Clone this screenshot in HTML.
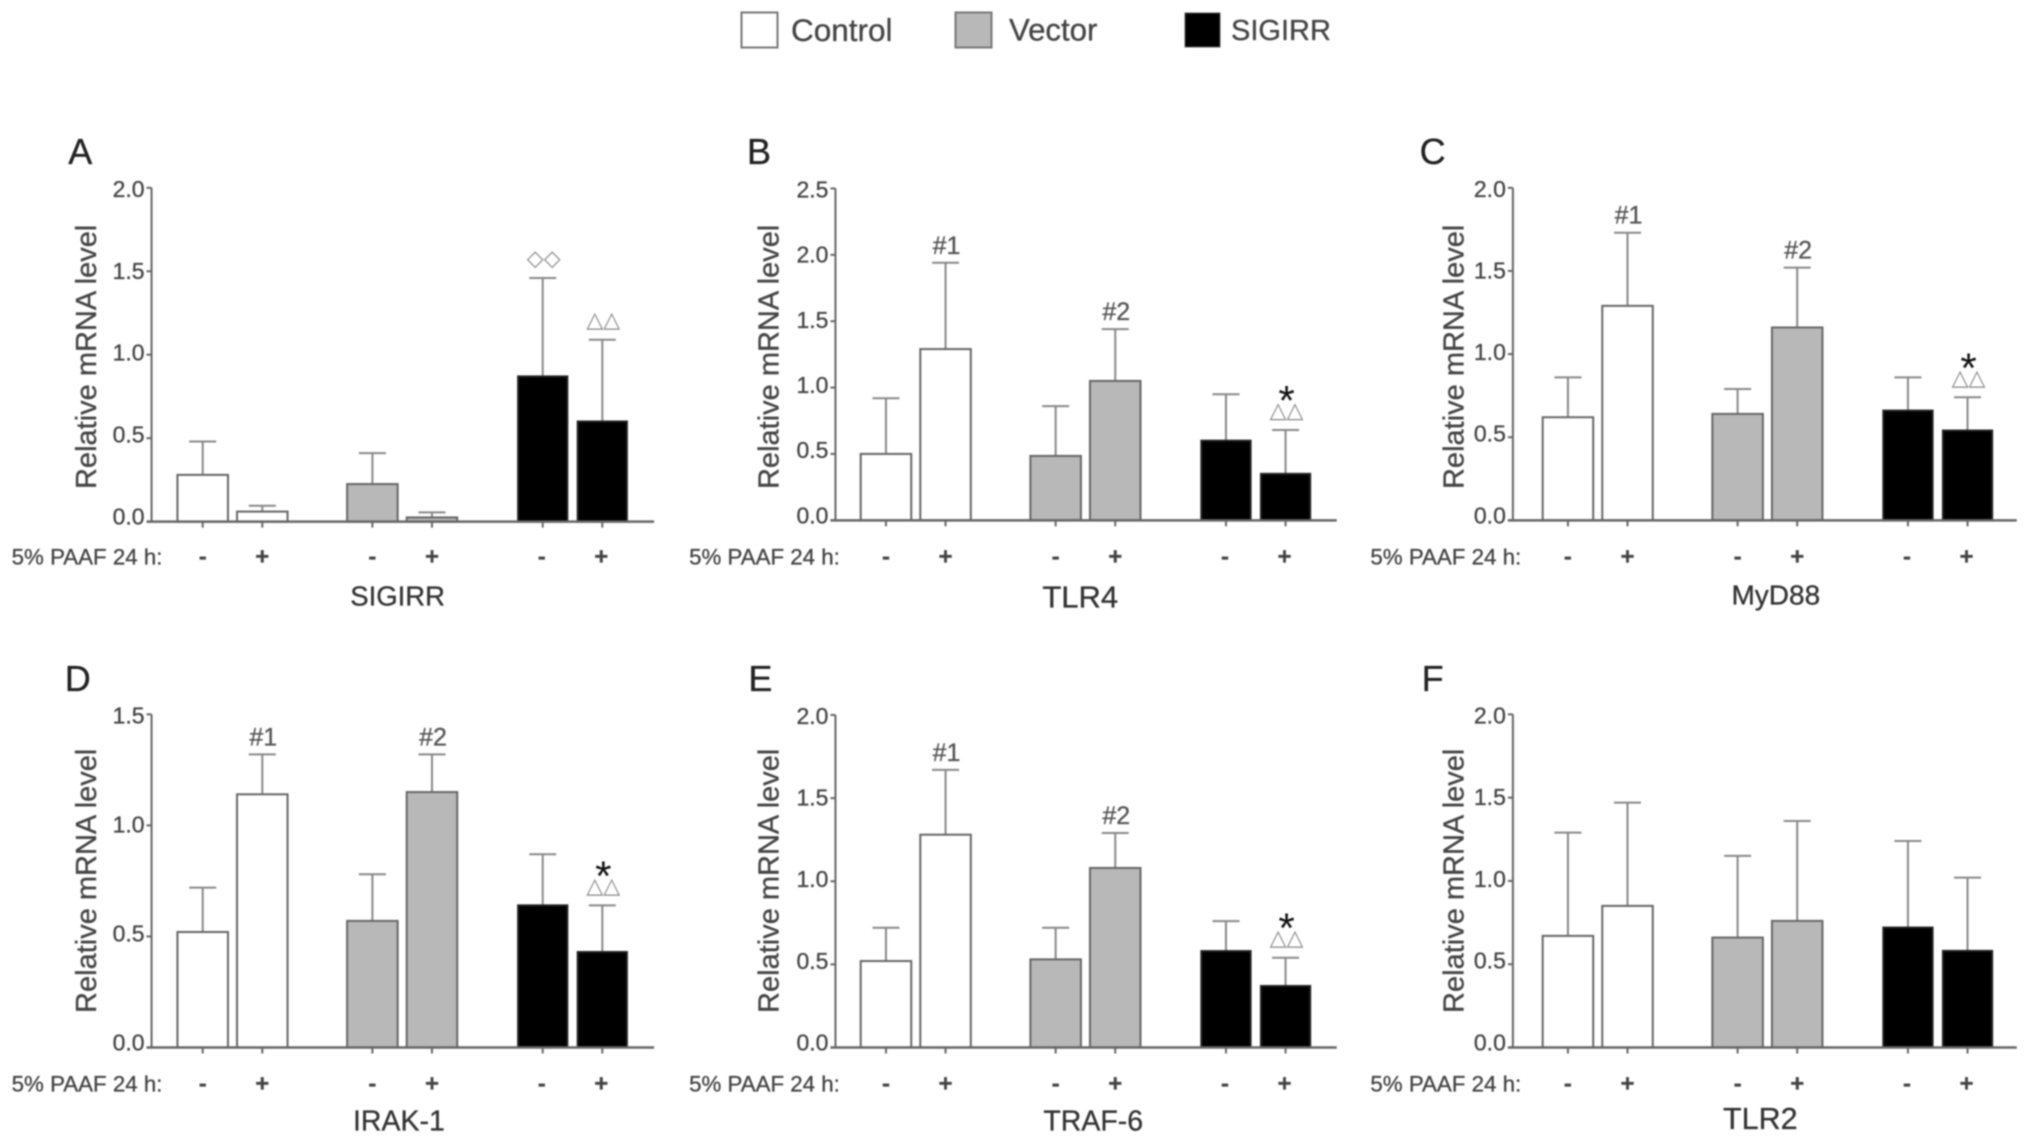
<!DOCTYPE html>
<html lang="en">
<head>
<meta charset="utf-8">
<title>Relative mRNA levels</title>
<style>
html,body{margin:0;padding:0;background:#fff;width:2031px;height:1144px;overflow:hidden}
#chart{display:block;filter:blur(0.8px)}
text{font-family:"Liberation Sans",sans-serif;fill:#444;stroke:#444;stroke-width:0.3px}
</style>
</head>
<body>
<svg id="chart" xmlns="http://www.w3.org/2000/svg" width="2031" height="1144" viewBox="0 0 2031 1144">
  <g>
    <rect x="741.500" y="12.500" width="36" height="35" fill="#fff" stroke="#777" stroke-width="2"/>
    <text x="791" y="30" font-size="31.500" dominant-baseline="central">Control</text>
    <rect x="955.500" y="12.500" width="36" height="35" fill="#b8b8b8" stroke="#777" stroke-width="2"/>
    <text x="1009" y="30" font-size="31.200" dominant-baseline="central">Vector</text>
    <rect x="1185" y="13" width="35" height="34" fill="#000" stroke="#555" stroke-width="1"/>
    <text x="1231" y="31" font-size="29" dominant-baseline="central">SIGIRR</text>
  </g>
</svg>
<script>
// Values: bar means and the top of each error bar.
const treatments = ["-", "+", "-", "+", "-", "+"];
const yTickLabels20 = ["0.0", "0.5", "1.0", "1.5", "2.0"];
const yTickLabels25 = ["0.0", "0.5", "1.0", "1.5", "2.0", "2.5"];
const yTickLabels15 = ["0.0", "0.5", "1.0", "1.5"];

const sigirrMeans = [0.28, 0.06, 0.225, 0.025, 0.87, 0.60];
const sigirrErrorTops = [0.48, 0.095, 0.41, 0.055, 1.46, 1.09];
const sigirrMarks = ["", "", "", "", "diamonds", "triangles"];

const tlr4Means = [0.50, 1.29, 0.485, 1.05, 0.60, 0.35];
const tlr4ErrorTops = [0.92, 1.94, 0.86, 1.44, 0.95, 0.68];
const tlr4Marks = ["", "#1", "", "#2", "", "star"];

const myd88Means = [0.62, 1.29, 0.64, 1.16, 0.66, 0.54];
const myd88ErrorTops = [0.86, 1.73, 0.79, 1.52, 0.86, 0.74];
const myd88Marks = ["", "#1", "", "#2", "", "star"];

const irak1Means = [0.52, 1.14, 0.57, 1.15, 0.64, 0.43];
const irak1ErrorTops = [0.72, 1.32, 0.78, 1.32, 0.87, 0.64];
const irak1Marks = ["", "#1", "", "#2", "", "star"];

const traf6Means = [0.52, 1.28, 0.53, 1.08, 0.58, 0.37];
const traf6ErrorTops = [0.72, 1.67, 0.72, 1.29, 0.76, 0.54];
const traf6Marks = ["", "#1", "", "#2", "", "star"];

const tlr2Means = [0.67, 0.85, 0.66, 0.76, 0.72, 0.58];
const tlr2ErrorTops = [1.29, 1.47, 1.15, 1.36, 1.24, 1.02];
const tlr2Marks = ["", "", "", "", "", ""];

const NS = "http://www.w3.org/2000/svg";
const svg = document.getElementById("chart");
const S = 2031 / 1568;
const barFills = ["#fff", "#fff", "#b8b8b8", "#b8b8b8", "#000", "#000"];
const barEdges = [[137,176],[183,222],[268,307],[314,353],[400,438],[446,484]];
const signOffsets = [0, 0, 0, 0, -1, -1];

const panels = [
  {key:"sigirr", letter:"A", lx:62, ly:117, title:"SIGIRR", tx:307, ty:460, tsize:27.5, axisX:117, right:505, base:402.7, top:145, max:2, ticks:yTickLabels20, means:sigirrMeans, errs:sigirrErrorTops, marks:sigirrMarks, dx:0, signY:430, rowX:9, yTitleX:67, yTitleY:275.5},
  {key:"tlr4", letter:"B", lx:586, ly:117, title:"TLR4", tx:834, ty:461, tsize:31, axisX:645, right:1032, base:401.7, top:145.5, max:2.5, ticks:yTickLabels25, means:tlr4Means, errs:tlr4ErrorTops, marks:tlr4Marks, dx:527.5, signY:430, rowX:532, yTitleX:594, yTitleY:275.5},
  {key:"myd88", letter:"C", lx:1106, ly:117, title:"MyD88", tx:1371, ty:459.5, tsize:28, axisX:1168, right:1557, base:401.7, top:145, max:2, ticks:yTickLabels20, means:myd88Means, errs:myd88ErrorTops, marks:myd88Marks, dx:1054, signY:430, rowX:1058, yTitleX:1123, yTitleY:275.5},
  {key:"irak1", letter:"D", lx:60, ly:524, title:"IRAK-1", tx:308, ty:866, tsize:28.5, axisX:117, right:505, base:808.7, top:551.5, max:1.5, ticks:yTickLabels15, means:irak1Means, errs:irak1ErrorTops, marks:irak1Marks, dx:0, signY:837, rowX:9, yTitleX:67, yTitleY:680},
  {key:"traf6", letter:"E", lx:587, ly:524, title:"TRAF-6", tx:844, ty:866, tsize:28.5, axisX:645, right:1032, base:808.7, top:552, max:2, ticks:yTickLabels20, means:traf6Means, errs:traf6ErrorTops, marks:traf6Marks, dx:527.5, signY:837, rowX:532, yTitleX:594, yTitleY:680},
  {key:"tlr2", letter:"F", lx:1106, ly:524, title:"TLR2", tx:1359, ty:864, tsize:30.5, axisX:1168, right:1557, base:808.7, top:551.5, max:2, ticks:yTickLabels20, means:tlr2Means, errs:tlr2ErrorTops, marks:tlr2Marks, dx:1054, signY:837, rowX:1058, yTitleX:1123, yTitleY:680}
];

function make(tag, parent, props, content) {
  const el = document.createElementNS(NS, tag);
  for (const k in props) el.setAttribute(k, props[k]);
  if (content !== undefined) el.textContent = content;
  parent.appendChild(el);
  return el;
}

panels.forEach(function (p) {
  const g = make("g", svg, {});
  
  

  const yBase = p.base * S, yTop = p.top * S, axisX = p.axisX * S;
  const yScale = function (v) { return yBase - (v / p.max) * (yBase - yTop); };
  const xLeft = function (i) { return (barEdges[i][0] + p.dx) * S; };
  const xRight = function (i) { return (barEdges[i][1] + p.dx) * S; };
  const xMid = function (i) { return (xLeft(i) + xRight(i)) / 2; };

  const letter = make("text", g, {x: p.lx * S, y: p.ly * S, "font-size": 36, "text-anchor": "middle", "dominant-baseline": "central", style: "fill:#222;stroke:#222"}, p.letter);
  
  

  const yTitle = make("text", g, {x: 0, y: 0, "font-size": 29, "text-anchor": "middle", "dominant-baseline": "central", transform: "translate(" + (p.yTitleX * S) + "," + (p.yTitleY * S) + ") rotate(-90)"}, "Relative mRNA level");
  
  

  p.ticks.forEach(function (label) {
    const v = parseFloat(label);
    const y = yScale(v);
    const tick = make("line", g, {x1: axisX - 5, x2: axisX, y1: y, y2: y, stroke: "#666", "stroke-width": 2});
    
    
    const labelShift = -5 + 6 * (v / p.max);
    const txt = make("text", g, {x: axisX - 7, y: y + labelShift, "font-size": 23, "text-anchor": "end", "dominant-baseline": "central"}, label);
    
    
  });

  p.means.forEach(function (mean, i) {
    const cx = xMid(i);
    const yErr = yScale(p.errs[i]);
    const stem = make("line", g, {x1: cx, x2: cx, y1: yErr, y2: yScale(mean), stroke: "#888", "stroke-width": 2});
    
    
    const cap = make("line", g, {x1: cx - 13.5, x2: cx + 13.5, y1: yErr, y2: yErr, stroke: "#888", "stroke-width": 2});
    
    

    const bar = make("rect", g, {x: xLeft(i), y: yScale(mean), width: xRight(i) - xLeft(i), height: yBase - yScale(mean), fill: barFills[i], stroke: i >= 4 ? "#222" : "#666", "stroke-width": 2});
    
    

    const xt = make("line", g, {x1: cx, x2: cx, y1: yBase, y2: yBase + 6, stroke: "#666", "stroke-width": 2});
    
    

    const sign = make("text", g, {x: cx + signOffsets[i], y: p.signY * S, "font-size": 24, "font-weight": "bold", "text-anchor": "middle", "dominant-baseline": "central"}, treatments[i]);
    
    

    const mark = p.marks[i];
    if (mark.charAt(0) === "#") {
      const t = make("text", g, {x: cx + 1, y: yErr - 17, "font-size": 25, "text-anchor": "middle", "dominant-baseline": "central", style: "fill:#555;stroke:#555"}, mark);
      
      
    } else if (mark === "diamonds" || mark === "triangles" || mark === "star") {
      const glyphs = mark === "diamonds" ? "\u25C7\u25C7" : "\u25B3\u25B3";
      const t = make("text", g, {x: cx + 1, y: yErr - 19, "font-size": 22, "text-anchor": "middle", "dominant-baseline": "central", style: "font-family:'DejaVu Sans',sans-serif;fill:#888;stroke:none"}, glyphs);
      
      
      if (mark === "star") {
        const s = make("text", g, {x: cx + 1, y: yErr - 15, "font-size": 42, "text-anchor": "middle", style: "fill:#111;stroke:none"}, "*");
        
        
      }
    }
  });

  const yAxis = make("line", g, {x1: axisX, x2: axisX, y1: yTop, y2: yBase, stroke: "#666", "stroke-width": 2});
  
  
  const xAxis = make("line", g, {x1: axisX - 5, x2: p.right * S, y1: yBase, y2: yBase, stroke: "#666", "stroke-width": 2.5});
  
  

  const row = make("text", g, {x: p.rowX * S, y: p.signY * S, "font-size": 22.3, "dominant-baseline": "central"}, "5% PAAF 24 h:");
  
  

  const title = make("text", g, {x: p.tx * S, y: p.ty * S, "font-size": p.tsize, "text-anchor": "middle", "dominant-baseline": "central", style: "fill:#333;stroke:#333"}, p.title);
  
  
});
</script>
</body>
</html>
